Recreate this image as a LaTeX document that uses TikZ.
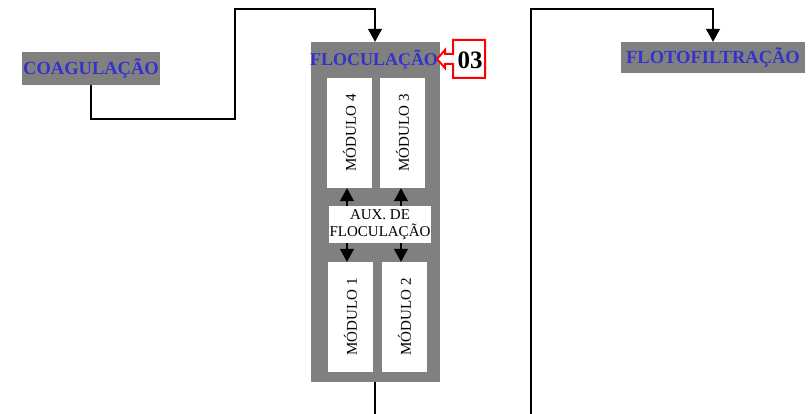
\documentclass[tikz,border=0pt]{standalone}
\usepackage{fontspec}
\setmainfont{Liberation Serif}
\usetikzlibrary{arrows.meta}
\definecolor{lblue}{RGB}{51,51,204}
\definecolor{boxgray}{RGB}{128,128,128}
\begin{document}
\begin{tikzpicture}[x=1pt,y=-1pt,
  graybox/.style={fill=boxgray,draw=none,inner sep=0pt,font=\fontsize{18.5}{20}\selectfont\bfseries,text=lblue},
  modbox/.style={fill=white,draw=none,minimum width=45pt,minimum height=110pt,inner sep=0pt},
  modtext/.style={rotate=90,font=\fontsize{15}{17}\selectfont},
  conn/.style={line width=1.2pt,black},
  arr/.style={conn,-{Triangle[width=14pt,length=13pt]}}]
\useasboundingbox (0,0) rectangle (811,414);
% boxes
\node[graybox,minimum width=138pt,minimum height=33pt] (coag) at (91,68.5) {COAGULAÇÃO};
\node[graybox,minimum width=184pt,minimum height=31pt] (flot) at (713,57.5) {FLOTOFILTRAÇÃO};
\node[fill=boxgray,draw=none,minimum width=129pt,minimum height=340pt,inner sep=0pt] (floc) at (375,212) {};
\node[font=\fontsize{18}{20}\selectfont\bfseries,text=lblue,inner sep=0pt] (floctxt) at (374,60) {FLOCULAÇÃO};
% modules
\node[modbox] (m4) at (349.5,133) {};
\node[modtext] at (m4) {MÓDULO 4};
\node[modbox] (m3) at (402.5,133) {};
\node[modtext] at (m3) {MÓDULO 3};
\node[modbox] (m1) at (350.5,317) {};
\node[modtext] at (m1) {MÓDULO 1};
\node[modbox] (m2) at (404.5,317) {};
\node[modtext] at (m2) {MÓDULO 2};
\node[fill=white,draw=none,minimum width=102pt,minimum height=37pt,inner sep=0pt,align=center,
  font=\fontsize{15}{17}\selectfont] (aux) at (380,224.5) {AUX. DE\\FLOCULAÇÃO};
% aux arrows
\draw[arr] ([xshift=-2.5pt]m4.south |- aux.north) -- ([xshift=-2.5pt]m4.south);
\draw[arr] ([xshift=-1.5pt]m3.south |- aux.north) -- ([xshift=-1.5pt]m3.south);
\draw[arr] ([xshift=-3.5pt]m1.north |- aux.south) -- ([xshift=-3.5pt]m1.north);
\draw[arr] ([xshift=-3.5pt]m2.north |- aux.south) -- ([xshift=-3.5pt]m2.north);
% callout 03
\draw[red,line width=2pt,fill=white,line join=miter]
  (453,40) -- (485,40) -- (485,78) -- (453,78) -- (453,64) -- (445,64) -- (445,68)
  -- (437,59) -- (445,50) -- (445,54) -- (453,54) -- cycle;
\node[font=\fontsize{25}{27}\selectfont\bfseries,inner sep=0pt] (n03) at (470,60) {03};
% connectors
\coordinate (c1) at (235,119);
\coordinate (c2) at (235,9);
\coordinate (fbot) at (375,414);
\coordinate (d1) at (531,414);
\coordinate (d2) at (531,9);
\draw[arr] (coag.south) |- (c1) -- (c2) -| (floc.north);
\draw[conn] (floc.south) -- (fbot);
\draw[arr] (d1) -- (d2) -| (flot.north);
\end{tikzpicture}
\end{document}
